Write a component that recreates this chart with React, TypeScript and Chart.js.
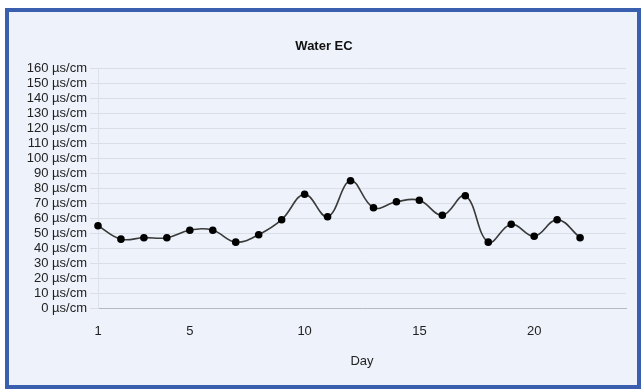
import React, { useEffect, useRef } from "react";
import { Chart, registerables } from "chart.js";

Chart.register(...registerables);

const days = [1, 2, 3, 4, 5, 6, 7, 8, 9, 10, 11, 12, 13, 14, 15, 16, 17, 18, 19, 20, 21, 22];
const ecValues = [55, 46, 47, 47, 52, 52, 44, 49, 59, 76, 61, 85, 67, 71, 72, 62, 75, 44, 56, 48, 59, 47];
const xTickValues = [1, 5, 10, 15, 20];
const titleText = "Water EC";
const xAxisTitle = "Day";
const unitLabel = " µs/cm";

const FONT = "'Liberation Sans', Arial, Helvetica, sans-serif";

export default function App() {
  const ref = useRef<HTMLCanvasElement | null>(null);

  useEffect(() => {
    if (!ref.current) return;
    const chart = new Chart(ref.current, {
      type: "line",
      data: {
        datasets: [
          {
            label: titleText,
            data: days.map((d, i) => ({ x: d, y: ecValues[i] })),
            borderColor: "#3a3a3a",
            borderWidth: 1.6,
            backgroundColor: "#000000",
            pointBackgroundColor: "#000000",
            pointBorderColor: "#000000",
            pointRadius: 3,
            tension: 0.4,
            fill: false,
            clip: false,
          },
        ],
      },
      options: {
        animation: false,
        responsive: false,
        maintainAspectRatio: false,
        layout: { padding: { left: 22, right: 16, top: 22, bottom: 20 } },
        plugins: {
          legend: { display: false },
          tooltip: { enabled: false },
          title: {
            display: true,
            text: titleText,
            color: "#111111",
            font: { family: FONT, size: 13, weight: "bold" },
            padding: { top: 17, bottom: 14 },
          },
        },
        scales: {
          x: {
            type: "linear",
            min: 1,
            max: 24,
            afterBuildTicks: (scale: any) => {
              scale.ticks = xTickValues.map((v) => ({ value: v }));
            },
            afterFit: (scale: any) => {
              scale.height = 61;
            },
            grid: { display: true, color: "transparent", drawTicks: false },
            border: { display: true, color: "#b4b9c2", width: 1 },
            ticks: {
              color: "#222222",
              font: { family: FONT, size: 13 },
              padding: 16,
              maxRotation: 0,
              autoSkip: false,
            },
            title: {
              display: true,
              text: xAxisTitle,
              color: "#222222",
              font: { family: FONT, size: 13 },
              padding: { top: 0, bottom: 0 },
            },
          },
          y: {
            min: 0,
            max: 160,
            afterFit: (scale: any) => {
              scale.width = 76;
            },
            grid: { color: "#d9dee7", tickLength: 8, lineWidth: 1 },
            border: { display: true, color: "#dde2ea" },
            ticks: {
              stepSize: 10,
              color: "#222222",
              font: { family: FONT, size: 13 },
              padding: 3,
              autoSkip: false,
              callback: (v: any) => `${v}${unitLabel}`,
            },
          },
        },
      },
    });
    return () => chart.destroy();
  }, []);

  return (
    <div style={{ position: "fixed", left: 0, top: 0, width: 642, height: 389, background: "#ffffff" }}>
      <div
        style={{
          position: "absolute",
          left: 5,
          top: 8,
          width: 636,
          height: 381,
          boxSizing: "border-box",
          border: "4px solid #3a5fae",
          background: "#eef3fb",
        }}
      />
      <canvas ref={ref} width={642} height={389} style={{ position: "absolute", left: 0, top: 0 }} />
    </div>
  );
}
